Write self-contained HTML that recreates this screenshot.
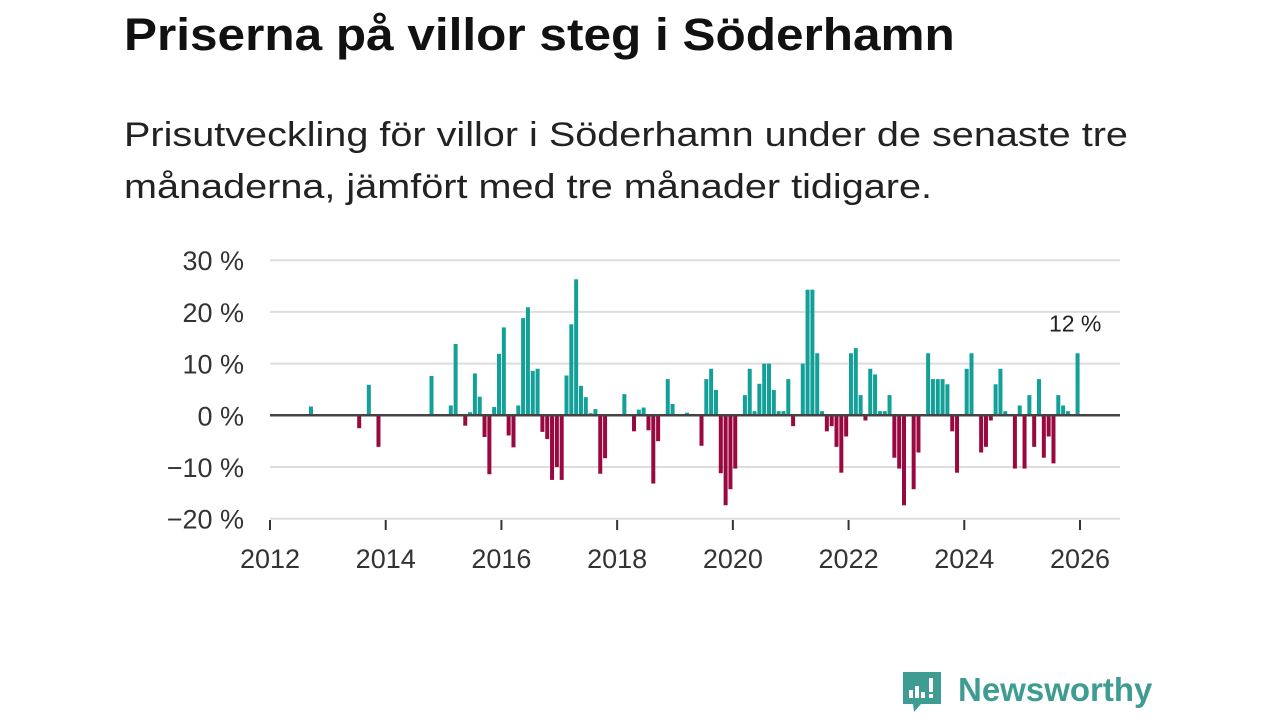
<!DOCTYPE html>
<html><head><meta charset="utf-8">
<style>
body{margin:0;width:1280px;height:720px;background:#fff;overflow:hidden;font-family:"Liberation Sans",sans-serif;}
h1{position:absolute;left:124px;top:9px;margin:0;font-size:45px;font-weight:bold;color:#111;transform:scaleX(1.1);transform-origin:left top;white-space:nowrap;}
.sub{position:absolute;left:124px;top:109px;margin:0;font-size:34px;line-height:52px;color:#222;transform:scaleX(1.165);transform-origin:left top;white-space:nowrap;}
svg{position:absolute;left:0;top:0;}
.logo{position:absolute;left:958px;top:671px;font-size:33px;font-weight:bold;color:#3e9c93;}
</style></head><body>
<h1>Priserna på villor steg i Söderhamn</h1>
<p class="sub">Prisutveckling för villor i Söderhamn under de senaste tre<br>månaderna, jämfört med tre månader tidigare.</p>
<svg id="chart" width="1280" height="720"></svg>
<svg width="1280" height="720">
<path d="M903 672h38v32h-20l-7 8l-1-8h-10z" fill="#3e9c93"/>
<rect x="909" y="690" width="4" height="8" fill="#fff"/><rect x="915" y="686" width="4" height="12" fill="#fff"/><rect x="921" y="692" width="4" height="6" fill="#fff"/><rect x="929" y="678" width="4" height="14" fill="#fff"/><rect x="929" y="694" width="4" height="4" fill="#fff"/>
</svg>
<div class="logo">Newsworthy</div>
<script>
const months=[8,18,20,21,22,33,37,38,40,41,42,43,44,45,46,47,48,49,50,51,52,53,54,55,56,57,58,59,60,61,62,63,64,65,66,67,68,69,73,75,76,77,78,79,80,82,83,86,89,90,91,92,93,94,95,96,98,99,100,101,102,103,104,105,106,107,108,110,111,112,113,114,115,116,117,118,119,120,121,122,123,124,125,126,127,128,129,130,131,133,134,136,137,138,139,140,141,142,144,145,147,148,149,150,151,152,154,155,156,157,158,159,160,161,162,163,164,165,167];
const values=[1.7,-2.5,5.9,0.2,-6.1,7.6,1.9,13.8,-2,0.6,8.1,3.6,-4.2,-11.4,1.6,11.9,17,-3.9,-6.2,1.9,18.8,20.9,8.6,9,-3.2,-4.6,-12.5,-10,-12.5,7.7,17.6,26.3,5.7,3.5,0.4,1.2,-11.3,-8.3,4.1,-3.1,1.1,1.5,-2.9,-13.2,-5,7,2.2,0.5,-5.9,7,9,4.9,-11.2,-17.4,-14.3,-10.3,3.9,9,0.8,6.1,10,10,4.9,0.8,0.8,7,-2.1,10,24.3,24.3,12,0.8,-3.1,-2.1,-6.1,-11.1,-4.1,12,13,3.9,-1,9,7.9,0.8,0.8,3.9,-8.2,-10.3,-17.4,-14.3,-7.2,12,7,7,7,6,-3.1,-11.1,9,12,-7.2,-6.1,-1,6,9,0.8,-10.3,1.9,-10.3,3.9,-6.1,7,-8.2,-4.1,-9.3,3.9,1.9,0.8,12];
const yTicks=[30,20,10,0,-10,-20];
const yTickLabels=["30 %","20 %","10 %","0 %","−10 %","−20 %"];
const xYears=[2012,2014,2016,2018,2020,2022,2024,2026];
const NS='http://www.w3.org/2000/svg';
const svg=document.getElementById('chart');
const x0=270,x1=1120;
const xM=m=>270+m*(810/168);
const yV=v=>415.3-v*5.17;
function el(t,a){const e=document.createElementNS(NS,t);for(const k in a)e.setAttribute(k,a[k]);svg.appendChild(e);return e;}
yTicks.forEach((t,i)=>{
  if(t!==0){const g=el('line',{x1:x0,x2:x1,y1:yV(t),y2:yV(t),stroke:'#ddd','stroke-width':2});
  
  }
  const tx=el('text',{x:244,y:yV(t)+10,'text-anchor':'end','font-size':27,fill:'#333','font-family':'Liberation Sans, sans-serif'});
  tx.textContent=yTickLabels[i];
  
  
});
xYears.forEach(yr=>{
  const x=xM((yr-2012)*12);
  const tk=el('line',{x1:x,x2:x,y1:520,y2:530,stroke:'#333','stroke-width':2});
  
  
  const tx=el('text',{x:x,y:568,'text-anchor':'middle','font-size':27,fill:'#333','font-family':'Liberation Sans, sans-serif'});
  tx.textContent=yr;
  
  
});
months.forEach((m,i)=>{
  const v=values[i];const x=xM(m)+0.4;
  const y=Math.min(yV(v),yV(0));const h=Math.abs(yV(v)-yV(0));
  const r=el('rect',{x:x,y:y,width:4,height:h,fill:v>=0?'#13a098':'#99093f'});
  
  
});
const z=el('line',{x1:x0,x2:x1,y1:yV(0),y2:yV(0),stroke:'#444','stroke-width':2.5});


const lm=months[months.length-1],lv=values[values.length-1];
const lab=el('text',{x:xM(lm),y:yV(lv)-22,'text-anchor':'middle','font-size':23,fill:'#222','font-family':'Liberation Sans, sans-serif'});
lab.textContent=lv+' %';


</script>
</body></html>
